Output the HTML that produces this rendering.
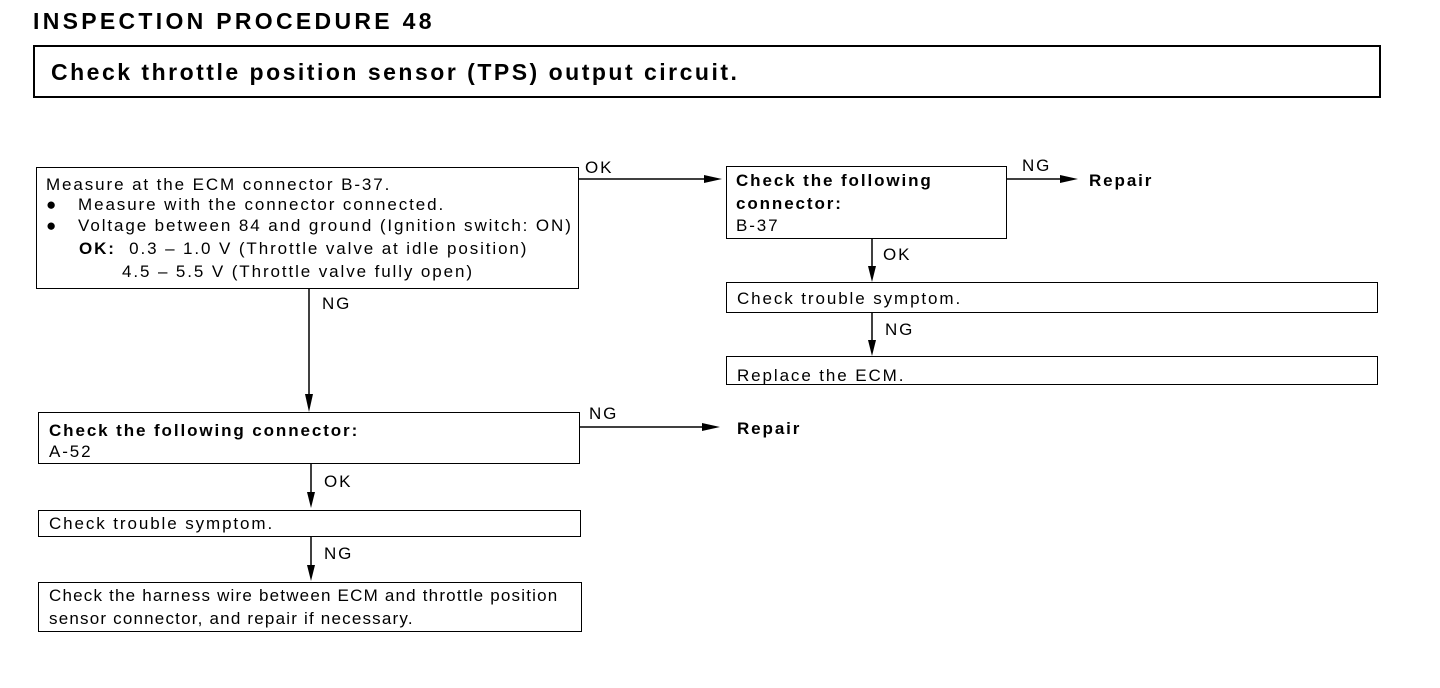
<!DOCTYPE html>
<html><head><meta charset="utf-8"><style>
body{margin:0;width:1440px;height:688px;background:#fff;position:relative;font-family:"Liberation Sans",sans-serif;color:#000;overflow:hidden}
.a{position:absolute;white-space:nowrap;line-height:1}
.b{position:absolute;border:1.5px solid #000;box-sizing:border-box}
.t{font-size:17px;letter-spacing:1.9px}
.bd{font-weight:bold}
</style></head><body>
<div class="a bd" style="left:33px;top:10px;font-size:23px;letter-spacing:3.3px">INSPECTION PROCEDURE 48</div>
<div class="b" style="left:33px;top:45px;width:1348px;height:53px;border-width:2px"></div>
<div class="a bd" style="left:51px;top:61px;font-size:23px;letter-spacing:2.5px">Check throttle position sensor (TPS) output circuit.</div>

<svg style="position:absolute;left:0;top:0" width="1440" height="688">
<g stroke="#000" stroke-width="1.5" fill="none">
<line x1="578" y1="179" x2="712" y2="179"/>
<line x1="1006" y1="179" x2="1066" y2="179"/>
<line x1="872" y1="238" x2="872" y2="272"/>
<line x1="872" y1="312" x2="872" y2="346"/>
<line x1="309" y1="288" x2="309" y2="400"/>
<line x1="579" y1="427" x2="708" y2="427"/>
<line x1="311" y1="463" x2="311" y2="498"/>
<line x1="311" y1="536" x2="311" y2="570"/>
</g>
<g fill="#000">
<polygon points="722,179 704,175 704,183"/>
<polygon points="1078,179 1060,175 1060,183"/>
<polygon points="872,282 868,266 876,266"/>
<polygon points="872,356 868,340 876,340"/>
<polygon points="309,412 305,394 313,394"/>
<polygon points="720,427 702,423 702,431"/>
<polygon points="311,508 307,492 315,492"/>
<polygon points="311,581 307,565 315,565"/>
</g>
</svg>

<div class="b" style="left:36px;top:167px;width:543px;height:122px"></div>
<div class="a t" style="left:46px;top:176px">Measure at the ECM connector B-37.</div>
<div class="a t" style="left:46px;top:196px">●&nbsp;&nbsp; Measure with the connector connected.</div>
<div class="a t" style="left:46px;top:217px">●&nbsp;&nbsp; Voltage between 84 and ground (Ignition switch: ON)</div>
<div class="a t" style="left:79px;top:240px"><b>OK:</b>&nbsp; 0.3 – 1.0 V (Throttle valve at idle position)</div>
<div class="a t" style="left:122px;top:263px">4.5 – 5.5 V (Throttle valve fully open)</div>
<div class="a t" style="left:585px;top:159px">OK</div>
<div class="a t" style="left:322px;top:295px">NG</div>

<div class="b" style="left:726px;top:166px;width:281px;height:73px"></div>
<div class="a t bd" style="left:736px;top:172px">Check the following</div>
<div class="a t bd" style="left:736px;top:195px">connector:</div>
<div class="a t" style="left:736px;top:217px">B-37</div>
<div class="a t" style="left:1022px;top:157px">NG</div>
<div class="a t bd" style="left:1089px;top:172px">Repair</div>
<div class="a t" style="left:883px;top:246px">OK</div>

<div class="b" style="left:726px;top:282px;width:652px;height:31px"></div>
<div class="a t" style="left:737px;top:290px">Check trouble symptom.</div>
<div class="a t" style="left:885px;top:321px">NG</div>
<div class="b" style="left:726px;top:356px;width:652px;height:29px"></div>
<div class="a t" style="left:737px;top:367px">Replace the ECM.</div>

<div class="b" style="left:38px;top:412px;width:542px;height:52px"></div>
<div class="a t bd" style="left:49px;top:422px">Check the following connector:</div>
<div class="a t" style="left:49px;top:443px">A-52</div>
<div class="a t" style="left:589px;top:405px">NG</div>
<div class="a t bd" style="left:737px;top:420px">Repair</div>
<div class="a t" style="left:324px;top:473px">OK</div>

<div class="b" style="left:38px;top:510px;width:543px;height:27px"></div>
<div class="a t" style="left:49px;top:515px">Check trouble symptom.</div>
<div class="a t" style="left:324px;top:545px">NG</div>
<div class="b" style="left:38px;top:582px;width:544px;height:50px"></div>
<div class="a t" style="left:49px;top:587px;letter-spacing:1.2px">Check the harness wire between ECM and throttle position</div>
<div class="a t" style="left:49px;top:610px;letter-spacing:1.2px">sensor connector, and repair if necessary.</div>
</body></html>
